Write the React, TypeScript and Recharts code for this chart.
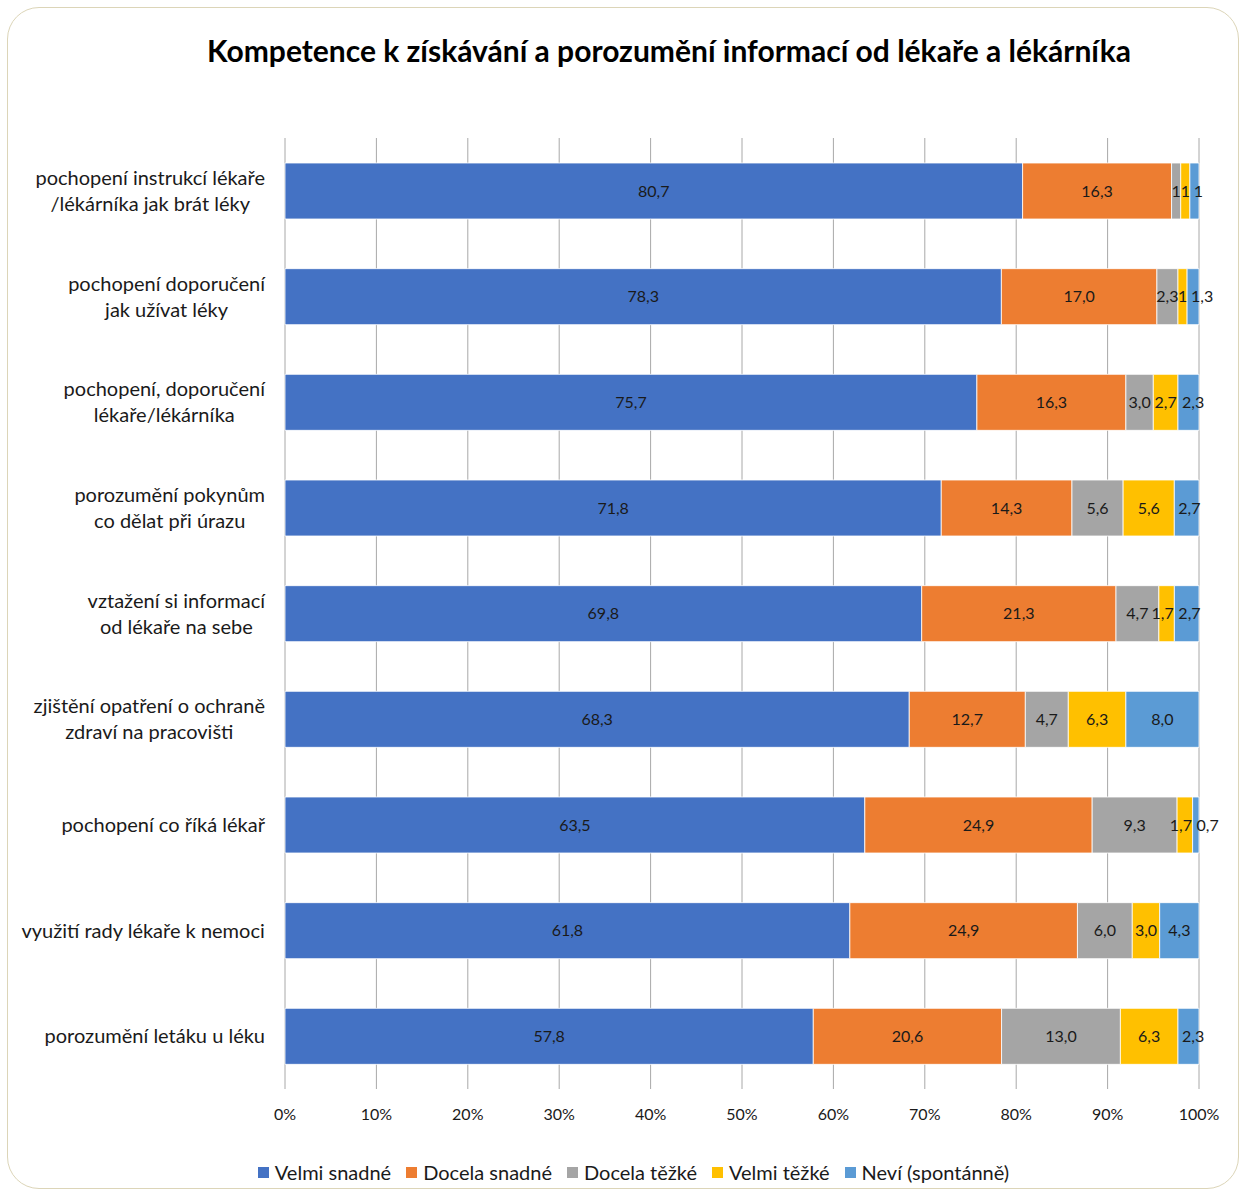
import { BarChart, Bar, XAxis, YAxis, CartesianGrid, LabelList, Legend } from 'recharts';

const categories = [
  'pochopení instrukcí lékaře\n/lékárníka jak brát léky',
  'pochopení doporučení\njak užívat léky',
  'pochopení, doporučení\nlékaře/lékárníka',
  'porozumění pokynům\nco dělat při úrazu',
  'vztažení si informací\nod lékaře na sebe',
  'zjištění opatření o ochraně\nzdraví na pracovišti',
  'pochopení co říká lékař',
  'využití rady lékaře k nemoci',
  'porozumění letáku u léku',
];

const velmiSnadne = [80.7, 78.3, 75.7, 71.8, 69.8, 68.3, 63.5, 61.8, 57.8];
const docelaSnadne = [16.3, 17.0, 16.3, 14.3, 21.3, 12.7, 24.9, 24.9, 20.6];
const docelaTezke = [1, 2.3, 3.0, 5.6, 4.7, 4.7, 9.3, 6.0, 13.0];
const velmiTezke = [1, 1, 2.7, 5.6, 1.7, 6.3, 1.7, 3.0, 6.3];
const nevi = [1, 1.3, 2.3, 2.7, 2.7, 8.0, 0.7, 4.3, 2.3];

const xTicks = [0, 0.1, 0.2, 0.3, 0.4, 0.5, 0.6, 0.7, 0.8, 0.9, 1];

const series = [
  { key: 'vs', name: 'Velmi snadné', color: '#4472C4' },
  { key: 'ds', name: 'Docela snadné', color: '#ED7D31' },
  { key: 'dt', name: 'Docela těžké', color: '#A5A5A5' },
  { key: 'vt', name: 'Velmi těžké', color: '#FFC000' },
  { key: 'nv', name: 'Neví (spontánně)', color: '#5B9BD5' },
];

const data = categories.map((c, i) => ({
  name: c,
  vs: velmiSnadne[i],
  ds: docelaSnadne[i],
  dt: docelaTezke[i],
  vt: velmiTezke[i],
  nv: nevi[i],
}));

const FONT = 'Lato, "Open Sans", sans-serif';
const LABEL_FONT = `16px ${FONT}`;

let ctx: CanvasRenderingContext2D | null = null;
function measure(text: string, font: string) {
  if (!ctx) ctx = document.createElement('canvas').getContext('2d');
  if (!ctx) return text.length * 9;
  ctx.font = font;
  return ctx.measureText(text).width;
}

function CategoryTick(props: any) {
  const { x, y, payload } = props;
  const lines: string[] = String(payload.value).split('\n');
  const maxW = Math.max(...lines.map((l) => measure(l, `20px ${FONT}`)));
  const cx = x - 12 - maxW / 2;
  const lh = 26;
  const y0 = y - ((lines.length - 1) * lh) / 2;
  return (
    <g>
      {lines.map((l, i) => (
        <text key={i} x={cx} y={y0 + i * lh} dy="0.35em" textAnchor="middle"
          fontSize={20} fontFamily={FONT} fill="#1a1a1a">
          {l}
        </text>
      ))}
    </g>
  );
}

const fmt = (v: any) => (v === 1 ? '1' : Number(v).toFixed(1).replace('.', ','));

// small segments at the right end: push the text out so labels don't collide
function makeLabel(key: string) {
  return (props: any) => {
    const { x, y, width, height, value } = props;
    const txt = fmt(value);
    const tw = measure(txt, LABEL_FONT);
    let cx = x + width / 2;
    if (key === 'nv' && tw > width - 4) cx = x + 4 + tw / 2;
    if (key === 'vt' && tw > width + 4) cx -= 4;
    return (
      <text x={cx} y={y + height / 2} dy="0.35em" textAnchor="middle"
        fontSize={16} fontFamily={FONT} fill="#1a1a1a">
        {txt}
      </text>
    );
  };
}

function LegendContent() {
  return (
    <div style={{ display: 'flex', justifyContent: 'center', gap: 15, paddingTop: 21, paddingLeft: 68, fontFamily: FONT, fontSize: 20, color: '#1a1a1a' }}>
      {series.map((s) => (
        <span key={s.key} style={{ display: 'flex', alignItems: 'center' }}>
          <span style={{ width: 11, height: 11, background: s.color, display: 'inline-block', marginRight: 6 }} />
          {s.name}
        </span>
      ))}
    </div>
  );
}

export default function App() {
  return (
    <div style={{ position: 'absolute', left: 0, top: 0, width: 1245, height: 1193, background: '#fff' }}>
      <div style={{ position: 'absolute', left: 7, top: 7, width: 1230, height: 1180, border: '1.5px solid #dcd5b8', borderRadius: 32 }} />
      <div style={{ position: 'absolute', left: 0, top: 32, width: 1338, textAlign: 'center', fontFamily: FONT, fontWeight: 700, fontSize: 30, color: '#000' }}>
        Kompetence k získávání a porozumění informací od lékaře a lékárníka
      </div>
      <div style={{ position: 'absolute', left: 0, top: 0 }}>
        <BarChart width={1245} height={1193} data={data} layout="vertical" stackOffset="expand"
          margin={{ top: 138, right: 46, bottom: 0, left: 0 }} barSize={56}>
          <CartesianGrid horizontal={false} stroke="#a8a8a8" />
          <XAxis type="number" domain={[0, 1]} ticks={xTicks} axisLine={false} tickLine={false}
            tickFormatter={(v) => `${Math.round(v * 100)}%`} height={50} tickMargin={14}
            tick={{ fontSize: 16, fontFamily: FONT, fill: '#1a1a1a' }} />
          <YAxis type="category" dataKey="name" width={285} axisLine={false} tickLine={false}
            tick={<CategoryTick />} interval={0} />
          <Legend verticalAlign="bottom" height={54} content={<LegendContent />} />
          {series.map((s) => (
            <Bar key={s.key} dataKey={s.key} name={s.name} stackId="a" fill={s.color}
              stroke="#ffffff" strokeWidth={0.8} isAnimationActive={false}>
              <LabelList dataKey={s.key} content={makeLabel(s.key)} />
            </Bar>
          ))}
        </BarChart>
      </div>
    </div>
  );
}
